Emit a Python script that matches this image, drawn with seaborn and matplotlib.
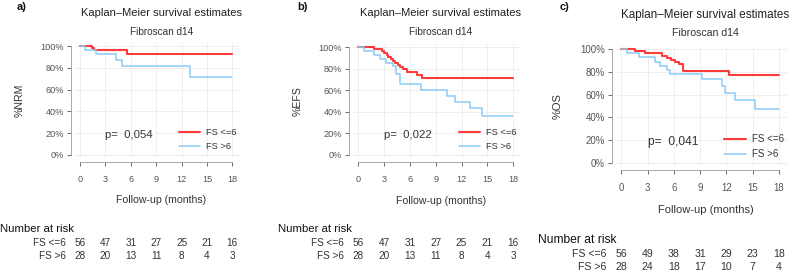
import numpy as np
import pandas as pd
import matplotlib
matplotlib.use("Agg")
import matplotlib.pyplot as plt
import matplotlib.transforms as mtransforms
import seaborn as sns

# step curves (time in months, survival in %)
nrm_low_t = [0, 1.4, 1.7, 5.5, 18]
nrm_low_s = [100, 98.2, 96.3, 93.3, 93.3]
nrm_high_t = [0, 0.6, 1.9, 4.3, 4.9, 13.0, 18]
nrm_high_s = [100, 96.4, 92.9, 87.2, 81.6, 71.3, 71.3]

efs_low_t = [0, 1.8, 2.8, 3.0, 3.3, 3.5, 3.8, 4.0, 4.3, 4.6, 4.9, 5.2, 5.7, 6.8, 7.4, 18]
efs_low_s = [100, 98.2, 96.4, 94.6, 92.8, 91.0, 89.2, 87.4, 85.6, 83.8, 82.0, 80.2, 76.7, 73.9, 71.5, 71.5]
efs_high_t = [0, 0.7, 1.8, 2.5, 3.2, 4.1, 4.4, 4.9, 7.3, 10.3, 11.2, 13.0, 14.4, 18]
efs_high_s = [100, 96.4, 92.9, 89.3, 85.7, 82.1, 75.0, 65.8, 60.3, 54.2, 48.8, 43.4, 36.2, 36.2]

os_low_t = [0, 1.6, 2.7, 4.7, 5.2, 5.7, 6.1, 6.6, 7.0, 12.3, 18]
os_low_s = [100, 98.5, 96.4, 94.5, 92.5, 90.5, 88.5, 86.8, 80.5, 77.6, 77.6]
os_high_t = [0, 0.6, 2.0, 3.8, 4.4, 5.2, 5.6, 9.2, 11.5, 11.8, 13.0, 15.2, 18]
os_high_s = [100, 96.4, 92.9, 89.3, 85.7, 82.1, 78.2, 73.5, 67.6, 61.7, 55.3, 47.6, 47.6]

risk_times = [0, 3, 6, 9, 12, 15, 18]
nrm_risk_low = [56, 47, 31, 27, 25, 21, 16]
nrm_risk_high = [28, 20, 13, 11, 8, 4, 3]
efs_risk_low = [56, 47, 31, 27, 25, 21, 16]
efs_risk_high = [28, 20, 13, 11, 8, 4, 3]
os_risk_low = [56, 49, 38, 31, 29, 23, 18]
os_risk_high = [28, 24, 18, 17, 10, 7, 4]

groups = ["FS <=6", "FS >6"]
p_values = ["0,054", "0,022", "0,041"]
ylabels = ["%NRM", "%EFS", "%OS"]
letters = ["a)", "b)", "c)"]

sns.set_style("white")
plt.rcParams['font.family'] = ['Liberation Sans', 'DejaVu Sans']

W, H = 790, 272
fig = plt.figure(figsize=(W / 100, H / 100), dpi=100)

red = "#ff3b3b"
blue = "#8ccaf7"
txt = "#333333"
tick_col = "#555555"

panels = [
    dict(curves=(nrm_low_t, nrm_low_s, nrm_high_t, nrm_high_s), risk=(nrm_risk_low, nrm_risk_high),
         rect=[75, 43, 240, 158], scale=1.0, title_y=13, sub_y=32, lab_y=177, xl_y=200,
         nar=(0, 229), rows=(243, 256), letter=(17, 7), ylab_x=20),
    dict(curves=(efs_low_t, efs_low_s, efs_high_t, efs_high_s), risk=(efs_risk_low, efs_risk_high),
         rect=[353, 44, 521, 158], scale=1.0, title_y=13, sub_y=32, lab_y=178, xl_y=201,
         nar=(278, 229), rows=(243, 256), letter=(297, 7), ylab_x=298),
    dict(curves=(os_low_t, os_low_s, os_high_t, os_high_s), risk=(os_risk_low, os_risk_high),
         rect=[616, 46, 787, 166], scale=1.05, title_y=15, sub_y=33, lab_y=186, xl_y=210,
         nar=(538, 240), rows=(254, 267), letter=(560, 7), ylab_x=558),
]

for i, p in enumerate(panels):
    x0, y0, x1, y1 = p["rect"]
    ax = fig.add_axes([x0 / W, 1 - y1 / H, (x1 - x0) / W, (y1 - y0) / H])
    s = p["scale"]
    lt, ls, ht, hs = p["curves"]
    df = pd.DataFrame({
        "time": lt + ht,
        "surv": ls + hs,
        "group": [groups[0]] * len(lt) + [groups[1]] * len(ht),
    })
    for g, c, lw in [(groups[0], red, 1.5), (groups[1], blue, 1.1)]:
        sns.lineplot(data=df[df.group == g], x="time", y="surv", ax=ax, color=c,
                     linewidth=lw, drawstyle="steps-post", estimator=None, label=g)
    ax.set_xlim(-0.6, 18.9)
    ax.set_ylim(-3, 103)
    ax.set_xticks(risk_times)
    ax.set_yticks([0, 20, 40, 60, 80, 100])
    ax.set_yticklabels([f"{v}%" for v in range(0, 101, 20)])
    ax.grid(True, color="#ececec", linewidth=0.6)
    ax.tick_params(axis="both", labelsize=6.6 * s, colors=tick_col, length=3, width=0.6,
                   direction="out", pad=2, bottom=True, left=True)
    ax.tick_params(axis="x", pad=6)
    for sp in ["left", "bottom"]:
        ax.spines[sp].set_color("#999999")
        ax.spines[sp].set_linewidth(0.6)
    sns.despine(ax=ax, offset=3, trim=True)
    ax.set_xlabel("")
    ax.set_ylabel("")

    leg = ax.legend(loc="center left", bbox_to_anchor=(0.58, 0.16), frameon=False,
                    fontsize=6.7 * s, handlelength=2.3, handletextpad=0.6, labelspacing=0.5)
    for t in leg.get_texts():
        t.set_color(txt)

    ax.text(3.0, 18.5, "p=  " + p_values[i], fontsize=8.2 * s, color=txt, va="center")

    cx = (x0 + x1) / 2 / W
    fig.text(cx + 0.005, 1 - p["title_y"] / H, "Kaplan\u2013Meier survival estimates",
             ha="center", va="center", fontsize=8 * s, color="#222222")
    fig.text(cx + 0.005, 1 - p["sub_y"] / H, "Fibroscan d14", ha="center", va="center",
             fontsize=7.2 * s, color="#333333")
    fig.text(cx + 0.005, 1 - p["xl_y"] / H, "Follow-up (months)", ha="center", va="center",
             fontsize=7.6 * s, color=txt)
    fig.text(p["ylab_x"] / W, 1 - (y0 + y1) / 2 / H, ylabels[i], rotation=90, ha="center",
             va="center", fontsize=7.6 * s, color=txt)
    fig.text(p["letter"][0] / W, 1 - p["letter"][1] / H, letters[i], ha="left", va="center",
             fontsize=8, fontweight="bold", color="#111111")

    # number at risk table
    fig.text(p["nar"][0] / W, 1 - p["nar"][1] / H, "Number at risk", ha="left", va="center",
             fontsize=8.2 * s, color="#111111")
    tr = mtransforms.blended_transform_factory(ax.transData, fig.transFigure)
    for row_y, g, vals in zip(p["rows"], groups, p["risk"]):
        ax.text(-1.7, 1 - row_y / H, g, transform=tr, ha="right", va="center",
                fontsize=7.2 * s, color=txt, clip_on=False)
        for t, v in zip(risk_times, vals):
            ax.text(t, 1 - row_y / H, str(v), transform=tr, ha="center", va="center",
                    fontsize=7.2 * s, color=txt, clip_on=False)

fig.savefig("out.png", dpi=100)
